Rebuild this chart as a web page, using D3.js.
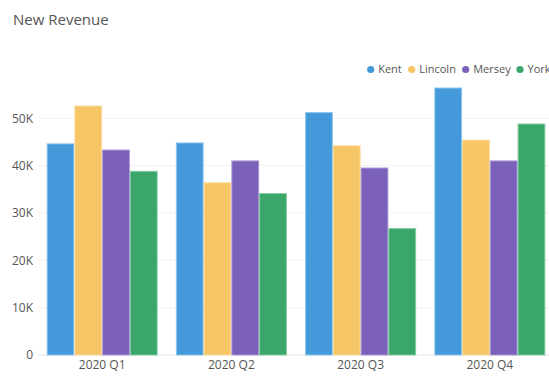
<!DOCTYPE html>
<html><head><meta charset="utf-8">
<script src="https://cdn.jsdelivr.net/npm/d3@7"></script>
<style>body{margin:0;background:#fff;overflow:hidden}svg{display:block;font-family:"Open Sans",sans-serif}</style>
</head><body><svg id="c" width="549" height="376"></svg>
<script>
const categories = ["2020 Q1","2020 Q2","2020 Q3","2020 Q4"];
const seriesNames = ["Kent","Lincoln","Mersey","York"];
const kent    = [44700, 44900, 51300, 56500];
const lincoln = [52700, 36500, 44300, 45500];
const mersey  = [43400, 41100, 39600, 41100];
const york    = [38900, 34200, 26800, 48900];
const yTicks = [0, 10000, 20000, 30000, 40000, 50000];
const colors = ["#4399d9", "#f5c566", "#7b61b9", "#3aa669"];
const strokes = ["#8cc3ec", "#fadc9c", "#a996d6", "#7fcba0"];
const title = "New Revenue";

const values = [kent, lincoln, mersey, york];
const svg = d3.select("#c");
const y = d3.scaleLinear().domain([0, 50000]).range([355, 118.3]);
const x0 = d3.scaleBand().domain(categories).range([37.6, 554.4]).paddingInner(0.141).paddingOuter(0.07);
const x1 = d3.scaleBand().domain(seriesNames).range([0, x0.bandwidth()]);

svg.append("text").attr("x", 13).attr("y", 25).attr("font-size", 15).attr("fill", "#555").text(title);

// grid
svg.append("g").selectAll("line").data(yTicks).join("line")
  .attr("x1", 38).attr("x2", 549).attr("y1", d => y(d)).attr("y2", d => y(d))
  .attr("stroke", d => d === 0 ? "#e6e6e6" : "#f2f2f2").attr("stroke-width", 1);

const yAxis = d3.axisLeft(y).tickValues(yTicks).tickSize(0).tickPadding(0)
  .tickFormat(d => d === 0 ? "0" : (d / 1000) + "K");
const ga = svg.append("g").attr("transform", "translate(33,0)").call(yAxis);
ga.select(".domain").remove();
ga.selectAll("text").attr("font-size", 12).attr("fill", "#555").attr("font-family", "Open Sans, sans-serif");

// bars
const groups = svg.append("g").selectAll("g").data(categories).join("g")
  .attr("transform", d => `translate(${x0(d)},0)`);
groups.selectAll("rect").data((c, ci) => seriesNames.map((s, si) => ({s, si, v: values[si][ci]})))
  .join("rect")
  .attr("x", d => x1(d.s) + 0.5).attr("width", x1.bandwidth() - 1)
  .attr("y", d => y(d.v) + 0.5).attr("height", d => y(0) - y(d.v) - 0.5)
  .attr("fill", d => colors[d.si]).attr("stroke", d => strokes[d.si]).attr("stroke-width", 1);

const xAxis = d3.axisBottom(x0).tickSize(0).tickPadding(0);
const gx = svg.append("g").attr("transform", "translate(0,358)").call(xAxis);
gx.select(".domain").remove();
gx.selectAll("text").attr("font-size", 12).attr("fill", "#555").attr("dy", "0.9em").attr("font-family", "Open Sans, sans-serif");

// legend
const legX = [370.7, 411.7, 465.7, 520];
const leg = svg.append("g").selectAll("g").data(seriesNames).join("g")
  .attr("transform", (d, i) => `translate(${legX[i]},69.5)`);
leg.append("circle").attr("r", 3.6).attr("fill", (d, i) => colors[i]);
leg.append("text").attr("x", 7.5).attr("dy", "0.35em").attr("font-size", 11).attr("fill", "#555").text(d => d);
</script></body></html>
